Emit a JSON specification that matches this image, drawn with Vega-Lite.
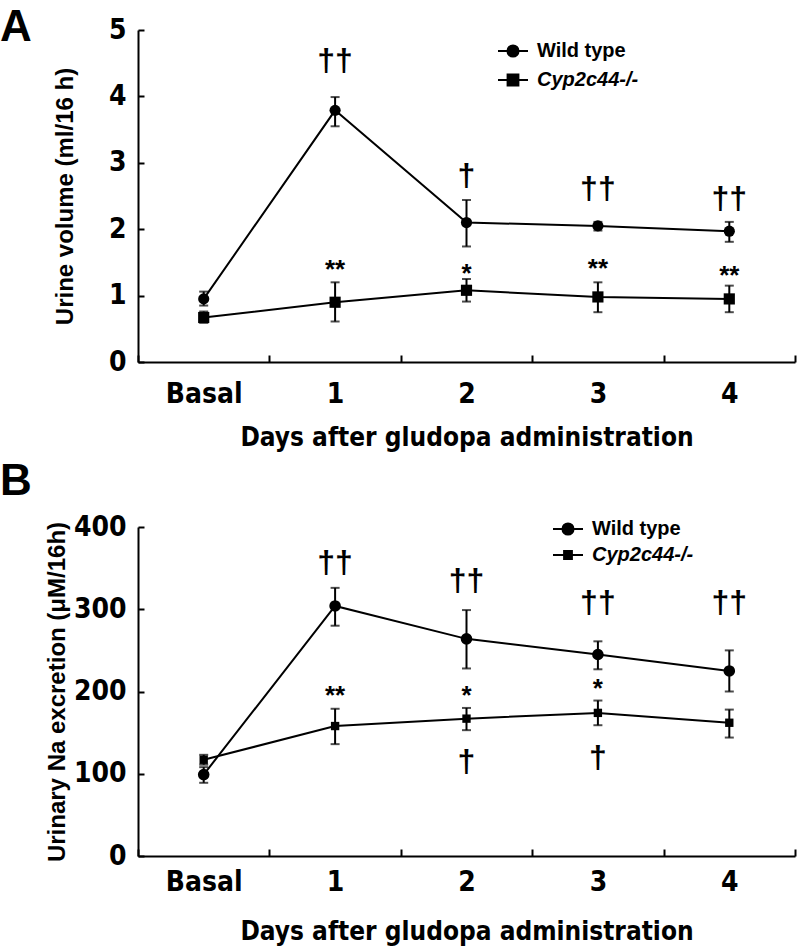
{
  "$schema": "https://vega.github.io/schema/vega-lite/v6.json",
  "padding": {"left": 0, "top": 6, "right": 10, "bottom": 5},
  "spacing": 10,
  "config": {
    "view": {"stroke": null},
    "axis": {
      "grid": false,
      "domainColor": "black", "domainWidth": 2,
      "tickColor": "black", "tickWidth": 2,
      "labelColor": "black", "labelFont": "Liberation Sans Narrow, DejaVu Sans Condensed, Liberation Sans",
      "labelFontWeight": "bold", "labelFontSize": 28,
      "titleColor": "black", "titleFont": "Liberation Sans", "titleFontWeight": "bold", "titleFontSize": 24
    },
    "legend": {
      "orient": "none", "title": null, "padding": 0,
      "labelFont": "Liberation Sans", "labelFontWeight": "bold", "labelFontSize": 20, "labelColor": "black",
      "symbolStrokeWidth": 2, "symbolSize": 900, "labelOffset": 8
    }
  },
  "datasets": {
    "urine": [
      {"day": "Basal", "group": "Wild type", "mean": 0.95, "lo": 0.85, "hi": 1.06},
      {"day": "1", "group": "Wild type", "mean": 3.79, "lo": 3.55, "hi": 3.99},
      {"day": "2", "group": "Wild type", "mean": 2.10, "lo": 1.74, "hi": 2.44},
      {"day": "3", "group": "Wild type", "mean": 2.05, "lo": 1.98, "hi": 2.11},
      {"day": "4", "group": "Wild type", "mean": 1.97, "lo": 1.81, "hi": 2.11},
      {"day": "Basal", "group": "Cyp2c44-/-", "mean": 0.67, "lo": 0.59, "hi": 0.76},
      {"day": "1", "group": "Cyp2c44-/-", "mean": 0.90, "lo": 0.61, "hi": 1.20},
      {"day": "2", "group": "Cyp2c44-/-", "mean": 1.08, "lo": 0.91, "hi": 1.25},
      {"day": "3", "group": "Cyp2c44-/-", "mean": 0.98, "lo": 0.75, "hi": 1.20},
      {"day": "4", "group": "Cyp2c44-/-", "mean": 0.95, "lo": 0.75, "hi": 1.15}
    ],
    "urineAnn": [
      {"day": "1", "y": 4.53, "label": "††"},
      {"day": "2", "y": 2.80, "label": "†"},
      {"day": "3", "y": 2.61, "label": "††"},
      {"day": "4", "y": 2.46, "label": "††"},
      {"day": "1", "y": 1.46, "label": "**"},
      {"day": "2", "y": 1.40, "label": "*"},
      {"day": "3", "y": 1.47, "label": "**"},
      {"day": "4", "y": 1.37, "label": "**"}
    ],
    "sodium": [
      {"day": "Basal", "group": "Wild type", "mean": 99, "lo": 89, "hi": 108},
      {"day": "1", "group": "Wild type", "mean": 304, "lo": 280, "hi": 326},
      {"day": "2", "group": "Wild type", "mean": 264, "lo": 228, "hi": 299},
      {"day": "3", "group": "Wild type", "mean": 245, "lo": 227, "hi": 261},
      {"day": "4", "group": "Wild type", "mean": 225, "lo": 200, "hi": 250},
      {"day": "Basal", "group": "Cyp2c44-/-", "mean": 117, "lo": 111, "hi": 123},
      {"day": "1", "group": "Cyp2c44-/-", "mean": 158, "lo": 136, "hi": 179},
      {"day": "2", "group": "Cyp2c44-/-", "mean": 167, "lo": 153, "hi": 180},
      {"day": "3", "group": "Cyp2c44-/-", "mean": 174, "lo": 159, "hi": 189},
      {"day": "4", "group": "Cyp2c44-/-", "mean": 162, "lo": 144, "hi": 178}
    ],
    "sodiumAnn": [
      {"day": "1", "y": 356, "label": "††"},
      {"day": "2", "y": 334, "label": "††"},
      {"day": "3", "y": 307, "label": "††"},
      {"day": "4", "y": 307, "label": "††"},
      {"day": "1", "y": 201, "label": "**"},
      {"day": "2", "y": 201, "label": "*"},
      {"day": "3", "y": 209, "label": "*"},
      {"day": "2", "y": 114, "label": "†"},
      {"day": "3", "y": 119, "label": "†"}
    ]
  },
  "vconcat": [
    {
      "title": {"text": "A", "anchor": "start", "frame": "group", "dx": -138, "dy": 38, "font": "Liberation Sans", "fontSize": 44, "fontWeight": "bold", "color": "black"},
      "width": 657,
      "height": 332,
      "resolve": {"scale": {"shape": "independent", "color": "independent", "stroke": "independent"}},
      "layer": [
        {
          "data": {"name": "urine"},
          "mark": {"type": "line", "color": "black", "strokeWidth": 2},
          "encoding": {
            "x": {"field": "day", "type": "ordinal", "sort": ["Basal", "1", "2", "3", "4"], "scale": {"type": "band", "paddingInner": 0, "paddingOuter": 0},
              "axis": {"title": "Days after gludopa administration", "titleFont": "Liberation Sans Narrow, DejaVu Sans Condensed, Liberation Sans", "titleFontSize": 26, "titlePadding": 16, "labelAngle": 0, "tickBand": "extent", "tickSize": -7, "labelPadding": 25}},
            "y": {"field": "mean", "type": "quantitative", "title": "Urine volume (ml/16 h)", "scale": {"domain": [0, 5], "nice": false},
              "axis": {"values": [0, 1, 2, 3, 4, 5], "format": "d", "tickSize": -6, "labelPadding": 18, "titlePadding": 31}},
            "detail": {"field": "group"}
          }
        },
        {
          "data": {"name": "urine"},
          "mark": {"type": "errorbar", "ticks": {"size": 9}, "thickness": 2, "color": "black"},
          "encoding": {
            "x": {"field": "day", "type": "ordinal", "sort": ["Basal", "1", "2", "3", "4"]},
            "y": {"field": "lo", "type": "quantitative", "title": "Urine volume (ml/16 h)"},
            "y2": {"field": "hi"}
          }
        },
        {
          "data": {"name": "urine"},
          "mark": {"type": "point", "filled": true, "opacity": 1, "color": "black", "size": 125},
          "encoding": {
            "x": {"field": "day", "type": "ordinal", "sort": ["Basal", "1", "2", "3", "4"]},
            "y": {"field": "mean", "type": "quantitative", "title": "Urine volume (ml/16 h)"},
            "shape": {"field": "group", "type": "nominal", "scale": {"domain": ["Wild type", "Cyp2c44-/-"], "range": ["circle", "square"]}, "legend": null}
          }
        },
        {
          "data": {"name": "urine"},
          "mark": {"type": "point", "filled": true, "opacity": 0, "strokeWidth": 2, "size": 900},
          "encoding": {
            "x": {"field": "day", "type": "ordinal", "sort": ["Basal", "1", "2", "3", "4"]},
            "y": {"field": "mean", "type": "quantitative", "title": "Urine volume (ml/16 h)"},
            "color": {"field": "group", "type": "nominal", "scale": {"domain": ["Wild type", "Cyp2c44-/-"], "range": ["black", "black"]}},
            "stroke": {"field": "group", "type": "nominal", "scale": {"domain": ["Wild type", "Cyp2c44-/-"], "range": ["black", "black"]}},
            "shape": {"field": "group", "type": "nominal",
              "scale": {"domain": ["Wild type", "Cyp2c44-/-"], "range": ["M-1,0H1M0.37,0A0.37,0.37,0,1,1,-0.37,0A0.37,0.37,0,1,1,0.37,0Z", "M-1,0H1M-0.36,-0.36H0.36V0.36H-0.36Z"]},
              "legend": {"legendX": 359, "legendY": 5, "rowPadding": 3, "symbolOpacity": 1, "symbolSize": 900,
                "labelFontStyle": {"expr": "datum.value === 'Cyp2c44-/-' ? 'italic' : 'normal'"}}}
          }
        },
        {
          "data": {"name": "urineAnn"},
          "transform": [{"filter": "indexof(datum.label, '†') >= 0"}],
          "mark": {"type": "text", "font": "Liberation Sans", "fontWeight": "bold", "fontSize": 32, "color": "black", "baseline": "middle"},
          "encoding": {
            "x": {"field": "day", "type": "ordinal", "sort": ["Basal", "1", "2", "3", "4"]},
            "y": {"field": "y", "type": "quantitative", "title": "Urine volume (ml/16 h)"},
            "text": {"field": "label"}
          }
        },
        {
          "data": {"name": "urineAnn"},
          "transform": [{"filter": "indexof(datum.label, '*') >= 0"}],
          "mark": {"type": "text", "font": "Liberation Sans", "fontWeight": "bold", "fontSize": 26, "color": "black", "baseline": "middle", "dy": 5},
          "encoding": {
            "x": {"field": "day", "type": "ordinal", "sort": ["Basal", "1", "2", "3", "4"]},
            "y": {"field": "y", "type": "quantitative", "title": "Urine volume (ml/16 h)"},
            "text": {"field": "label"}
          }
        }
      ]
    },
    {
      "title": {"text": "B", "anchor": "start", "frame": "group", "dx": -138, "dy": -5, "font": "Liberation Sans", "fontSize": 44, "fontWeight": "bold", "color": "black"},
      "width": 657,
      "height": 329,
      "resolve": {"scale": {"shape": "independent", "color": "independent", "stroke": "independent"}},
      "layer": [
        {
          "data": {"name": "sodium"},
          "mark": {"type": "line", "color": "black", "strokeWidth": 2},
          "encoding": {
            "x": {"field": "day", "type": "ordinal", "sort": ["Basal", "1", "2", "3", "4"], "scale": {"type": "band", "paddingInner": 0, "paddingOuter": 0},
              "axis": {"title": "Days after gludopa administration", "titleFont": "Liberation Sans Narrow, DejaVu Sans Condensed, Liberation Sans", "titleFontSize": 26, "titlePadding": 22, "labelAngle": 0, "tickBand": "extent", "tickSize": -7, "labelPadding": 19}},
            "y": {"field": "mean", "type": "quantitative", "title": "Urinary Na excretion (μM/16h)", "scale": {"domain": [0, 400], "nice": false},
              "axis": {"values": [0, 100, 200, 300, 400], "format": "d", "tickSize": -6, "labelPadding": 18, "titlePadding": 4}},
            "detail": {"field": "group"}
          }
        },
        {
          "data": {"name": "sodium"},
          "mark": {"type": "errorbar", "ticks": {"size": 9}, "thickness": 2, "color": "black"},
          "encoding": {
            "x": {"field": "day", "type": "ordinal", "sort": ["Basal", "1", "2", "3", "4"]},
            "y": {"field": "lo", "type": "quantitative", "title": "Urinary Na excretion (μM/16h)"},
            "y2": {"field": "hi"}
          }
        },
        {
          "data": {"name": "sodium"},
          "mark": {"type": "point", "filled": true, "opacity": 1, "color": "black"},
          "encoding": {
            "x": {"field": "day", "type": "ordinal", "sort": ["Basal", "1", "2", "3", "4"]},
            "y": {"field": "mean", "type": "quantitative", "title": "Urinary Na excretion (μM/16h)"},
            "size": {"field": "group", "type": "nominal", "scale": {"domain": ["Wild type", "Cyp2c44-/-"], "range": [135, 70]}, "legend": null},
            "shape": {"field": "group", "type": "nominal", "scale": {"domain": ["Wild type", "Cyp2c44-/-"], "range": ["circle", "square"]}, "legend": null}
          }
        },
        {
          "data": {"name": "sodium"},
          "mark": {"type": "point", "filled": true, "opacity": 0, "strokeWidth": 2, "size": 900},
          "encoding": {
            "x": {"field": "day", "type": "ordinal", "sort": ["Basal", "1", "2", "3", "4"]},
            "y": {"field": "mean", "type": "quantitative", "title": "Urinary Na excretion (μM/16h)"},
            "color": {"field": "group", "type": "nominal", "scale": {"domain": ["Wild type", "Cyp2c44-/-"], "range": ["black", "black"]}},
            "stroke": {"field": "group", "type": "nominal", "scale": {"domain": ["Wild type", "Cyp2c44-/-"], "range": ["black", "black"]}},
            "shape": {"field": "group", "type": "nominal",
              "scale": {"domain": ["Wild type", "Cyp2c44-/-"], "range": ["M-1,0H1M0.37,0A0.37,0.37,0,1,1,-0.37,0A0.37,0.37,0,1,1,0.37,0Z", "M-1,0H1M-0.26,-0.26H0.26V0.26H-0.26Z"]},
              "legend": {"legendX": 414, "legendY": -14, "rowPadding": -2, "symbolOpacity": 1, "symbolSize": 900,
                "labelFontStyle": {"expr": "datum.value === 'Cyp2c44-/-' ? 'italic' : 'normal'"}}}
          }
        },
        {
          "data": {"name": "sodiumAnn"},
          "transform": [{"filter": "indexof(datum.label, '†') >= 0"}],
          "mark": {"type": "text", "font": "Liberation Sans", "fontWeight": "bold", "fontSize": 32, "color": "black", "baseline": "middle"},
          "encoding": {
            "x": {"field": "day", "type": "ordinal", "sort": ["Basal", "1", "2", "3", "4"]},
            "y": {"field": "y", "type": "quantitative", "title": "Urinary Na excretion (μM/16h)"},
            "text": {"field": "label"}
          }
        },
        {
          "data": {"name": "sodiumAnn"},
          "transform": [{"filter": "indexof(datum.label, '*') >= 0"}],
          "mark": {"type": "text", "font": "Liberation Sans", "fontWeight": "bold", "fontSize": 26, "color": "black", "baseline": "middle", "dy": 5},
          "encoding": {
            "x": {"field": "day", "type": "ordinal", "sort": ["Basal", "1", "2", "3", "4"]},
            "y": {"field": "y", "type": "quantitative", "title": "Urinary Na excretion (μM/16h)"},
            "text": {"field": "label"}
          }
        }
      ]
    }
  ]
}
